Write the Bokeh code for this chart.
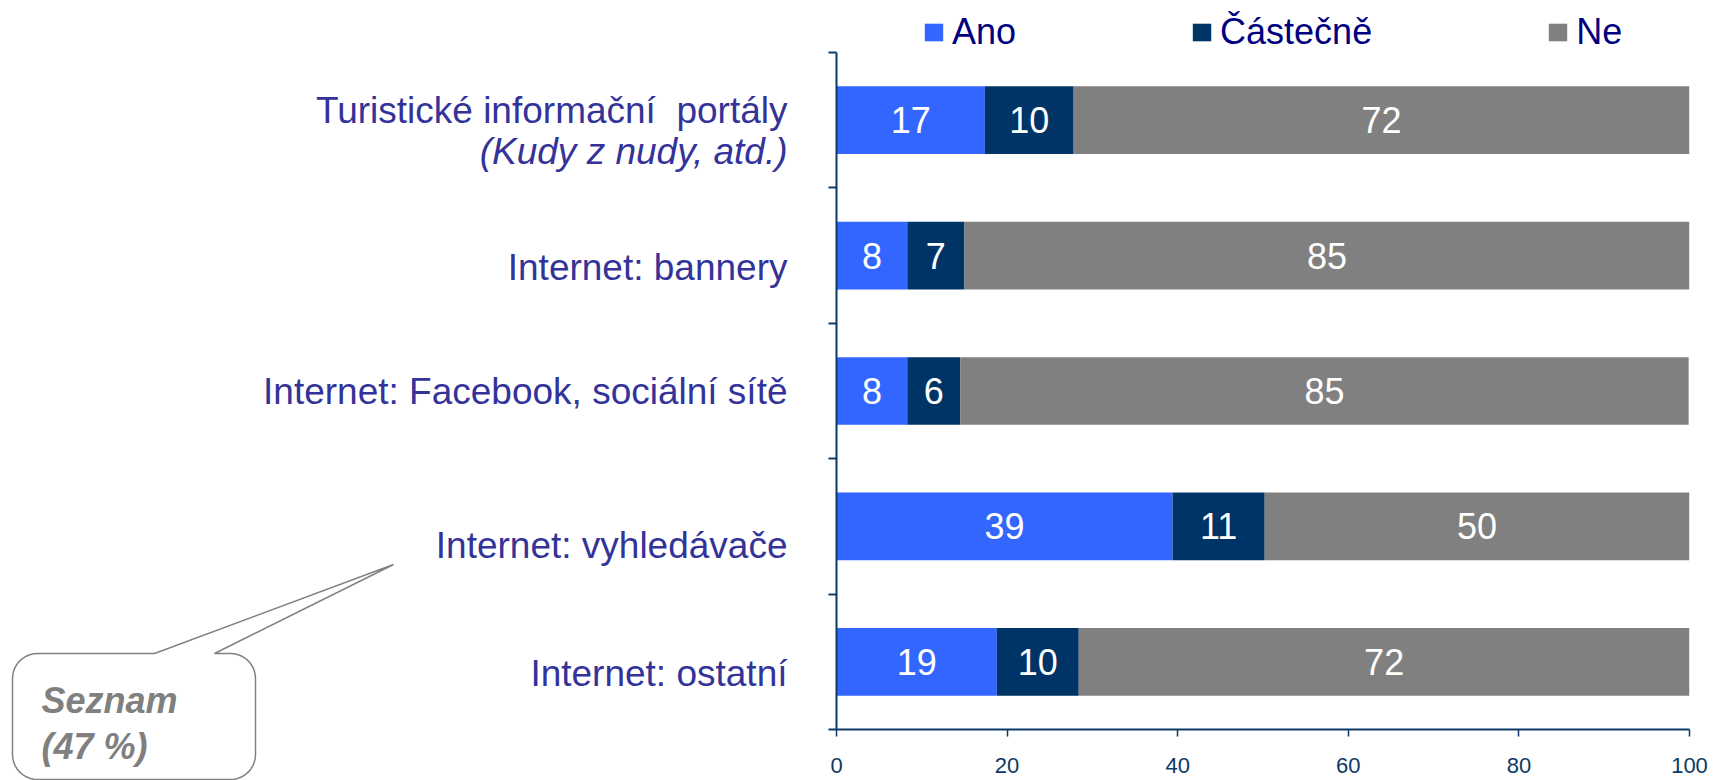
import math
from bokeh.plotting import figure
from bokeh.layouts import row
from bokeh.models import (ColumnDataSource, Legend, LegendItem,
                          FixedTicker, Range1d)
from bokeh.embed import file_html
from bokeh.resources import INLINE
from bokeh.core.properties import value

# ---------------- data ----------------
categories = ["Turistické informační\u00a0 portály", "Internet: bannery",
              "Internet: Facebook, sociální sítě", "Internet: vyhledávače",
              "Internet: ostatní"]
category_notes = ["(Kudy z nudy, atd.)", "", "", "", ""]
series_names = ["Ano", "Částečně", "Ne"]
ano = [17.4, 8.3, 8.3, 39.4, 18.8]
castecne = [10.4, 6.7, 6.2, 10.8, 9.6]
ne = [72.2, 85.0, 85.4, 49.8, 71.6]
x_ticks = [0, 20, 40, 60, 80, 100]
callout_lines = ["Seznam", "(47 %)"]

# ---------------- style / layout ----------------
colors = ["#3366FF", "#003366", "#808080"]
FONT = "Liberation Sans"
AXIS_COLOR = "#0B3A66"
CAT_COLOR = "#333399"
FIG_H = 780
LEFT_W = 800                 # width of the label/callout figure
PLOT_L = 836                 # page x of the value axis 0
PLOT_W = 853                 # frame width
BAND_TOP, BAND_BOTTOM = 52, 729   # page y of the value area (category 5 .. 0)
label_offsets = [-10, 12, 0, 19, 12]   # px, downward nudge of category labels
NOTE_GAP = 41

n = len(categories)
ys = [n - i - 0.5 for i in range(n)]
unit = (BAND_BOTTOM - BAND_TOP) / n          # px per category band
y_top = n + BAND_TOP / unit                  # extra space above for legend
y_bottom = -(FIG_H - BAND_BOTTOM) / unit     # space below for the callout

# ---------------- right figure: bars ----------------
src = ColumnDataSource(dict(y=ys, ano=ano, castecne=castecne, ne=ne))
p = figure(width=PLOT_L - LEFT_W + PLOT_W + 36, height=FIG_H,
           frame_width=PLOT_W, frame_height=BAND_BOTTOM,
           x_range=Range1d(0, 100), y_range=Range1d(0, y_top),
           output_backend="svg", toolbar_location=None,
           min_border_left=PLOT_L - LEFT_W, min_border_top=0,
           min_border_right=36, min_border_bottom=FIG_H - BAND_BOTTOM)
p.outline_line_color = None
p.xgrid.visible = False
p.ygrid.visible = False

renderers = p.hbar_stack(["ano", "castecne", "ne"], y="y", height=0.5,
                         color=colors, line_color=None, source=src)

xc, yc, txt = [], [], []
for i in range(n):
    left = 0.0
    for vals in (ano, castecne, ne):
        v = vals[i]
        xc.append(left + v / 2)
        yc.append(ys[i])
        txt.append(str(round(v)))
        left += v
p.text(x="x", y="y", text="t", source=ColumnDataSource(dict(x=xc, y=yc, t=txt)),
       text_font=value(FONT), text_font_size=value("36px"), text_color="white",
       text_align="center", text_baseline="middle")

xa = p.xaxis[0]
xa.ticker = FixedTicker(ticks=x_ticks)
xa.major_tick_out = 7
xa.major_tick_in = 0
xa.minor_tick_line_color = None
xa.axis_line_color = AXIS_COLOR
xa.axis_line_width = 2
xa.major_tick_line_color = AXIS_COLOR
xa.major_tick_line_width = 1.5
xa.major_label_text_font = FONT
xa.major_label_text_font_size = "22px"
xa.major_label_text_color = AXIS_COLOR
xa.major_label_standoff = 21

ya = p.yaxis[0]
ya.ticker = FixedTicker(ticks=list(range(n + 1)))
ya.bounds = (0, n)
ya.major_tick_out = 8
ya.major_tick_in = 0
ya.minor_tick_line_color = None
ya.axis_line_color = AXIS_COLOR
ya.axis_line_width = 2
ya.major_tick_line_color = AXIS_COLOR
ya.major_tick_line_width = 2
ya.major_label_overrides = {k: "" for k in range(n + 1)}
ya.major_label_standoff = 0

legend = Legend(items=[LegendItem(label=s, renderers=[r]) for s, r in zip(series_names, renderers)],
                orientation="horizontal", location=(86, 676), spacing=174,
                padding=0, margin=0, glyph_width=23, glyph_height=22,
                label_standoff=7, label_text_font=FONT, label_text_font_size="36px",
                label_text_color="#000080", border_line_color=None,
                background_fill_alpha=0)
p.add_layout(legend, "center")

# ---------------- left figure: category labels + callout ----------------
q = figure(width=LEFT_W, height=FIG_H, frame_width=LEFT_W, frame_height=FIG_H,
           x_range=Range1d(0, LEFT_W), y_range=Range1d(y_bottom, y_top),
           output_backend="svg", toolbar_location=None,
           min_border_left=0, min_border_right=0, min_border_top=0, min_border_bottom=0,
           x_axis_location=None, y_axis_location=None, title=None)
q.outline_line_color = None
q.xgrid.visible = False
q.ygrid.visible = False

def dy(py):
    return (BAND_BOTTOM - py) / unit

cat_x = PLOT_L - 49
q.text(x=[cat_x] * n, y=ys, text=categories, y_offset=label_offsets,
       text_font=value(FONT), text_font_size=value("37px"), text_color=CAT_COLOR,
       text_align="right", text_baseline="middle")
note_idx = [i for i in range(n) if category_notes[i]]
q.text(x=[cat_x] * len(note_idx), y=[ys[i] for i in note_idx],
       text=[category_notes[i] for i in note_idx],
       y_offset=[label_offsets[i] + NOTE_GAP for i in note_idx],
       text_font=value(FONT), text_font_size=value("37px"), text_color=CAT_COLOR,
       text_font_style="italic", text_align="right", text_baseline="middle")

# callout bubble (rounded rectangle with pointer), page pixels
L, T, R, B, rad = 12, 653, 255, 779, 25
b1, b2, tip = 154, 214, (393, 564)
pts = [(b2, T), (R - rad, T)]
def arc(cx, cy, a0, a1):
    out = []
    for k in range(1, 11):
        a = math.radians(a0 + (a1 - a0) * k / 10)
        out.append((cx + rad * math.cos(a), cy + rad * math.sin(a)))
    return out
pts += arc(R - rad, T + rad, -90, 0)
pts += [(R, B - rad)]
pts += arc(R - rad, B - rad, 0, 90)
pts += [(L + rad, B)]
pts += arc(L + rad, B - rad, 90, 180)
pts += [(L, T + rad)]
pts += arc(L + rad, T + rad, 180, 270)
pts += [(b1, T), tip]
q.patch(x=[a for a, _ in pts], y=[dy(b) for _, b in pts],
        fill_color="white", line_color="#808080", line_width=1.5)
q.text(x=[41] * len(callout_lines), y=[dy(700 + 46 * k) for k in range(len(callout_lines))],
       text=callout_lines, text_font=value(FONT), text_font_size=value("36px"),
       text_font_style="bold italic", text_color="#808080",
       text_align="left", text_baseline="alphabetic")

layout = row(q, p, spacing=0)
open("out.html", "w").write(file_html(layout, INLINE))
